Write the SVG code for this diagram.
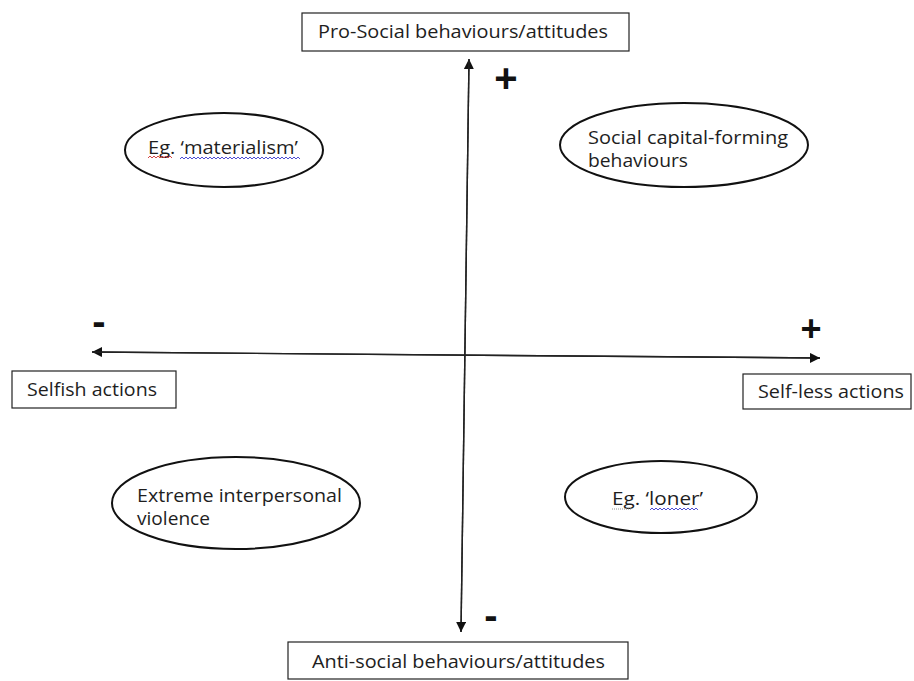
<svg xmlns="http://www.w3.org/2000/svg" width="914" height="681" viewBox="0 0 914 681">
  <defs>
    <marker id="arrow" viewBox="0 0 10 10" refX="10" refY="5" markerWidth="10" markerHeight="10" markerUnits="userSpaceOnUse" orient="auto">
      <path d="M0,0 L10,5 L0,10 z" fill="#111"/>
    </marker>
  </defs>
  <style>
    .box { fill: #fff; stroke: #222; stroke-width: 1.2; }
    .oval { fill: #fff; stroke: #111; stroke-width: 2; }
    .label { font-family: "Open Sans", "Noto Sans", "Liberation Sans", sans-serif; font-size: 18px; fill: #1e1e1e; }
    .sign { font-family: "Liberation Sans", "DejaVu Sans", sans-serif; font-weight: bold; fill: #111; }
    .axis { stroke: #222; stroke-width: 1.4; fill: none; }
    .squiggle { fill: none; stroke-width: 0.9; }
  </style>
  <rect width="914" height="681" fill="#fff"/>

  <g id="connectors">
    <line class="axis" x1="461" y1="632" x2="469" y2="59" marker-end="url(#arrow)"/>
    <line class="axis" x1="469" y1="59" x2="461" y2="632" marker-end="url(#arrow)"/>
    <line class="axis" x1="820" y1="358" x2="92" y2="352" marker-end="url(#arrow)"/>
    <line class="axis" x1="92" y1="352" x2="820" y2="358" marker-end="url(#arrow)"/>
  </g>

  <g id="signs">
    <text class="sign" x="506" y="92" font-size="40" text-anchor="middle">+</text>
    <text class="sign" x="811" y="341" font-size="36" text-anchor="middle">+</text>
    <text class="sign" x="99" y="335" font-size="40" text-anchor="middle">-</text>
    <text class="sign" x="491" y="629" font-size="40" text-anchor="middle">-</text>
  </g>

  <g id="pro-social">
    <rect class="box" x="302" y="13" width="327" height="38"/>
    <text class="label" x="318" y="38" textLength="290" lengthAdjust="spacingAndGlyphs">Pro-Social behaviours/attitudes</text>
  </g>

  <g id="anti-social">
    <rect class="box" x="288" y="642" width="340" height="37"/>
    <text class="label" x="312" y="668" textLength="293" lengthAdjust="spacingAndGlyphs">Anti-social behaviours/attitudes</text>
  </g>

  <g id="selfish">
    <rect class="box" x="12" y="371" width="164" height="37"/>
    <text class="label" x="27" y="396" textLength="130" lengthAdjust="spacingAndGlyphs">Selfish actions</text>
  </g>

  <g id="selfless">
    <rect class="box" x="743" y="374" width="168" height="35"/>
    <text class="label" x="758" y="398" textLength="146" lengthAdjust="spacingAndGlyphs">Self-less actions</text>
  </g>

  <g id="materialism">
    <ellipse class="oval" cx="224" cy="150" rx="99" ry="37"/>
    <text class="label" x="148" y="154" textLength="150" lengthAdjust="spacingAndGlyphs">Eg. ‘materialism’</text>
    <path class="squiggle" stroke="#d03030" d="M148,158 l2,-2 l2,2 l2,-2 l2,2 l2,-2 l2,2 l2,-2 l2,2 l2,-2 l2,2 l2,-2 l2,2"/>
    <path class="squiggle" stroke="#3a3ad0" d="M180,159 l2,-2 l2,2 l2,-2 l2,2 l2,-2 l2,2 l2,-2 l2,2 l2,-2 l2,2 l2,-2 l2,2 l2,-2 l2,2 l2,-2 l2,2 l2,-2 l2,2 l2,-2 l2,2 l2,-2 l2,2 l2,-2 l2,2 l2,-2 l2,2 l2,-2 l2,2 l2,-2 l2,2 l2,-2 l2,2 l2,-2 l2,2 l2,-2 l2,2 l2,-2 l2,2 l2,-2 l2,2 l2,-2 l2,2 l2,-2 l2,2 l2,-2 l2,2 l2,-2 l2,2 l2,-2 l2,2 l2,-2 l2,2 l2,-2 l2,2 l2,-2 l2,2 l2,-2 l2,2 l2,-2 l2,2"/>
  </g>

  <g id="social-capital">
    <ellipse class="oval" cx="684" cy="145" rx="124" ry="42"/>
    <text class="label" x="588" y="144" textLength="200" lengthAdjust="spacingAndGlyphs">Social capital-forming</text>
    <text class="label" x="588" y="167" textLength="100" lengthAdjust="spacingAndGlyphs">behaviours</text>
  </g>

  <g id="violence">
    <ellipse class="oval" cx="236" cy="503" rx="124" ry="46"/>
    <text class="label" x="137" y="502" textLength="205" lengthAdjust="spacingAndGlyphs">Extreme interpersonal</text>
    <text class="label" x="137" y="525" textLength="73" lengthAdjust="spacingAndGlyphs">violence</text>
  </g>

  <g id="loner">
    <ellipse class="oval" cx="661" cy="497" rx="96" ry="36"/>
    <text class="label" x="612" y="505" textLength="91" lengthAdjust="spacingAndGlyphs">Eg. ‘loner’</text>
    <path class="squiggle" stroke="#888" stroke-dasharray="1 1" d="M612,509 h20"/>
    <path class="squiggle" stroke="#3a3ad0" d="M650,510 l2,-2 l2,2 l2,-2 l2,2 l2,-2 l2,2 l2,-2 l2,2 l2,-2 l2,2 l2,-2 l2,2 l2,-2 l2,2 l2,-2 l2,2 l2,-2 l2,2 l2,-2 l2,2 l2,-2 l2,2 l2,-2 l2,2"/>
  </g>
</svg>
